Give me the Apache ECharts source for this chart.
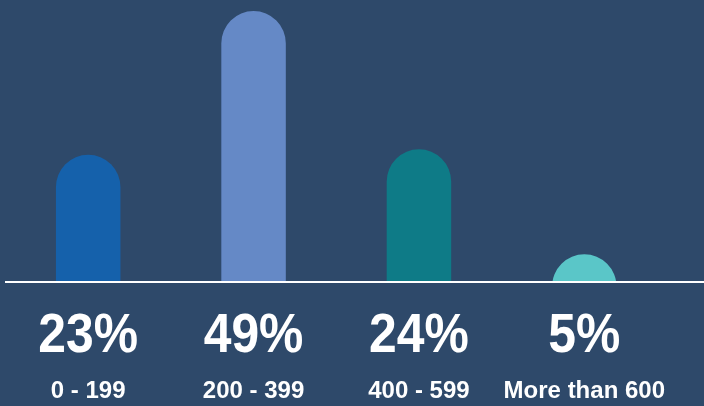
<!DOCTYPE html>
<html>
<head>
<meta charset="utf-8">
<script src="https://cdn.jsdelivr.net/npm/echarts@6/dist/echarts.min.js"></script>
<style>
html,body{margin:0;padding:0;background:#2e496a;}
#chart{width:704px;height:406px;}
</style>
</head>
<body>
<div id="chart"></div>
<script>
const categories = ['0 - 199', '200 - 399', '400 - 599', 'More than 600'];
const values = [23, 49, 24, 5];
const barColors = ['#1561ab', '#6589c6', '#0e7b87', '#5ac6c8'];

const chart = echarts.init(document.getElementById('chart'));
chart.setOption({
  backgroundColor: '#2e496a',
  animation: false,
  grid: { left: 5.5, right: 37, top: 0, bottom: 124 },
  xAxis: {
    type: 'category',
    data: categories,
    axisLine: { show: false },
    axisTick: { show: false },
    axisLabel: {
      interval: 0,
      margin: 97,
      fontFamily: '"Liberation Sans", Arial, sans-serif',
      fontWeight: 'bold',
      fontSize: 24,
      lineHeight: 24,
      color: '#ffffff'
    }
  },
  yAxis: { type: 'value', min: 0, max: 51, show: false, splitLine: { show: false } },
  series: [{
    type: 'custom',
    clip: true,
    data: values.map((v, i) => [i, v]),
    renderItem: function (params, api) {
      const top = api.coord([api.value(0), api.value(1)]);
      const base = api.coord([api.value(0), 0]);
      const w = api.size([1, 0])[0] * 0.39;
      return {
        type: 'rect',
        shape: { x: top[0] - w / 2, y: top[1], width: w, height: base[1] - top[1] + w, r: [w / 2, w / 2, 0, 0] },
        style: { fill: barColors[params.dataIndex] }
      };
    }
  }, {
    type: 'custom',
    clip: false,
    silent: true,
    data: values.map((v, i) => [i, v]),
    renderItem: function (params, api) {
      const base = api.coord([api.value(0), 0]);
      return {
        type: 'text',
        x: base[0],
        y: base[1] + 55,
        scaleX: 0.89,
        style: {
          text: api.value(1) + '%',
          fontFamily: '"Liberation Sans", Arial, sans-serif',
          fontWeight: 'bold',
          fontSize: 56,
          fill: '#ffffff',
          align: 'center',
          verticalAlign: 'middle'
        }
      };
    }
  }],
  graphic: [{
    type: 'rect', z: 100, left: 5, top: 281,
    shape: { width: 699, height: 2 },
    style: { fill: '#ffffff' }
  }]
});
</script>
</body>
</html>
